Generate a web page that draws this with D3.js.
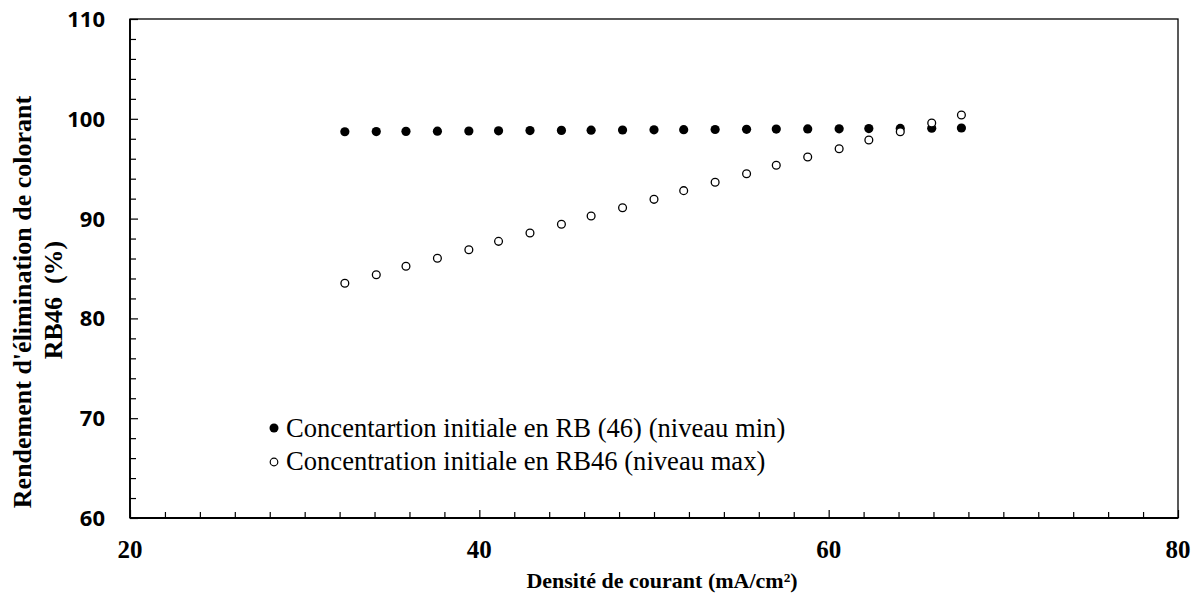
<!DOCTYPE html>
<html><head><meta charset="utf-8">
<script src="https://cdn.jsdelivr.net/npm/d3@7"></script>
<style>body{margin:0;background:#fff}
.serif{font-family:"Liberation Serif","Times New Roman",Times,"DejaVu Serif",serif}
.sans{font-family:"Open Sans","Noto Sans",Lato,sans-serif}
</style>
</head><body>
<svg id="c" width="1203" height="597"></svg>
<script>
const xValues = [32.3, 34.1, 35.8, 37.6, 39.4, 41.1, 42.9, 44.7, 46.4, 48.2, 50.0, 51.7, 53.5, 55.3, 57.0, 58.8, 60.6, 62.3, 64.1, 65.9, 67.6];
const minLevel = [98.70, 98.72, 98.74, 98.76, 98.78, 98.80, 98.82, 98.84, 98.86, 98.88, 98.90, 98.91, 98.93, 98.95, 98.97, 98.99, 99.00, 99.02, 99.04, 99.06, 99.08];
const maxLevel = [83.52, 84.38, 85.22, 86.02, 86.88, 87.72, 88.56, 89.43, 90.26, 91.09, 91.93, 92.80, 93.64, 94.50, 95.34, 96.17, 97.00, 97.88, 98.71, 99.58, 100.38];
const xTicks = [20, 40, 60, 80];
const yTicks = [60, 70, 80, 90, 100, 110];
const legendLabels = ["Concentartion initiale en RB (46) (niveau min)", "Concentration initiale en RB46 (niveau max)"];

const svg = d3.select("#c");
const L = 130, R = 1178, T = 19, B = 518;
const x = d3.scaleLinear().domain([20, 80]).range([L, R]);
const y = d3.scaleLinear().domain([60, 110]).range([B, T]);

svg.append("rect").attr("x", L).attr("y", T).attr("width", R - L).attr("height", B - T)
  .attr("fill", "none").attr("stroke", "#000").attr("stroke-width", 1.3);

const xMinor = d3.range(20, 81, 2);
const yMinor = d3.range(60, 111, 2);
const gx = svg.append("g").attr("transform", `translate(0,${B})`);
gx.call(d3.axisTop(x).tickValues(xMinor).tickSize(6).tickFormat(""));
gx.select(".domain").remove();
gx.selectAll("line").attr("stroke-width", 1.2);
gx.selectAll("line").filter(d => d % 20 === 0).attr("y2", -8);

const gy = svg.append("g").attr("transform", `translate(${L},0)`);
gy.call(d3.axisRight(y).tickValues(yMinor).tickSize(6).tickFormat(""));
gy.select(".domain").remove();
gy.selectAll("line").attr("stroke-width", 1.2);
gy.selectAll("line").filter(d => d % 10 === 0).attr("x2", 8);

svg.append("line").attr("x1", L).attr("x2", R).attr("y1", B).attr("y2", B).attr("stroke", "#000").attr("stroke-width", 1.8);
svg.append("line").attr("x1", L).attr("x2", L).attr("y1", T).attr("y2", B).attr("stroke", "#000").attr("stroke-width", 1.8);

svg.append("g").selectAll("text").data(xTicks).join("text")
  .attr("class", "serif")
  .attr("x", d => x(d)).attr("y", 558).attr("text-anchor", "middle")
  .attr("font-weight", "bold").attr("font-size", 25)
  .text(d => d);
svg.append("g").selectAll("text").data(yTicks).join("text")
  .attr("class", "sans")
  .attr("x", 105).attr("y", d => y(d)).attr("dy", "0.36em").attr("text-anchor", "end")
  .attr("font-weight", "bold").attr("font-size", 22)
  .text(d => d);

svg.append("text").attr("class", "serif").attr("x", (L + R) / 2 + 8).attr("y", 588).attr("text-anchor", "middle")
  .attr("font-weight", "bold").attr("font-size", 22)
  .text("Densité de courant (mA/cm²)");
svg.append("text").attr("class", "serif").attr("transform", "translate(31,302) rotate(-90)").attr("text-anchor", "middle")
  .attr("font-weight", "bold").attr("font-size", 26)
  .text("Rendement d'élimination de colorant");
svg.append("text").attr("class", "serif").attr("transform", "translate(62,300) rotate(-90)").attr("text-anchor", "middle")
  .attr("font-weight", "bold").attr("font-size", 26)
  .style("white-space", "pre")
  .text("RB46  (%)");

svg.append("g").selectAll("circle").data(xValues.map((v, i) => [v, minLevel[i]])).join("circle")
  .attr("cx", d => x(d[0])).attr("cy", d => y(d[1])).attr("r", 4.6).attr("fill", "#000");
svg.append("g").selectAll("circle").data(xValues.map((v, i) => [v, maxLevel[i]])).join("circle")
  .attr("cx", d => x(d[0])).attr("cy", d => y(d[1])).attr("r", 3.9)
  .attr("fill", "#fff").attr("stroke", "#000").attr("stroke-width", 1.3);

const lg = svg.append("g");
lg.append("circle").attr("cx", 274).attr("cy", 428).attr("r", 4.5).attr("fill", "#000");
lg.append("circle").attr("cx", 274).attr("cy", 462).attr("r", 3.8).attr("fill", "#fff").attr("stroke", "#000").attr("stroke-width", 1.2);
lg.selectAll("text").data(legendLabels).join("text")
  .attr("class", "serif")
  .attr("x", 286).attr("y", (d, i) => 437 + i * 33)
  .attr("font-size", 26.6)
  .text(d => d);
</script>
</body></html>
